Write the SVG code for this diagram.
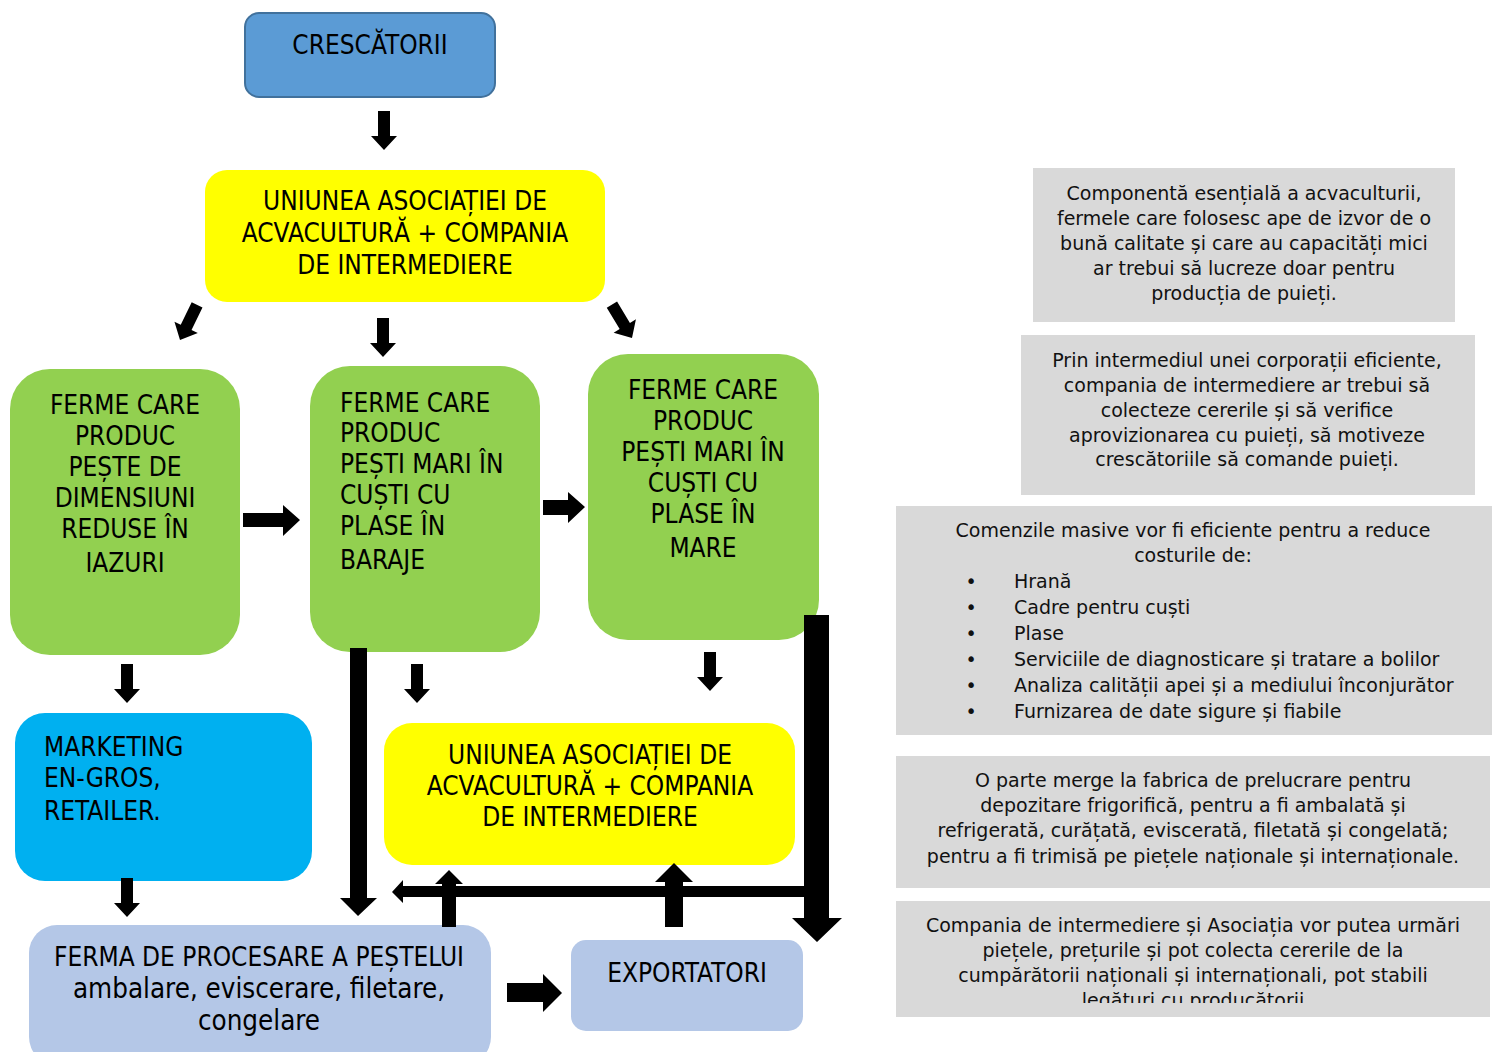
<svg xmlns="http://www.w3.org/2000/svg" width="1494" height="1052" viewBox="0 0 1494 1052">
<style>
.t{font-family:"DejaVu Sans Condensed","DejaVu Sans",sans-serif;font-stretch:condensed;font-size:26px;fill:#000}
.lc{font-size:27.5px}
.c{text-anchor:middle}
.g{font-family:"DejaVu Sans",sans-serif;font-size:19px;fill:#111}
.gray{fill:#D9D9D9}
.green{fill:#92D050}
.yellow{fill:#FFFF00}
.lb{fill:#B4C7E7}
.ar{fill:#000}
</style>
<defs>
<path id="sd" d="M-6,-39 H6 V-14 H13 L0,0 L-13,-14 H-6 Z"/>
<clipPath id="clipE"><rect x="896" y="901" width="594" height="102"/></clipPath>
</defs>
<rect width="1494" height="1052" fill="#fff"/>

<g id="crescatorii">
<rect x="245" y="13" width="250" height="84" rx="14" fill="#5B9BD5" stroke="#41719C" stroke-width="2"/>
<text class="t c" x="370" y="54">CRESCĂTORII</text>
</g>

<g id="uniunea-top">
<rect class="yellow" x="205" y="170" width="400" height="132" rx="22"/>
<text class="t c" x="405" y="210">UNIUNEA ASOCIAȚIEI DE</text>
<text class="t c" x="405" y="242">ACVACULTURĂ + COMPANIA</text>
<text class="t c" x="405" y="274">DE INTERMEDIERE</text>
</g>

<g id="ferme-iazuri">
<rect class="green" x="10" y="369" width="230" height="286" rx="40"/>
<text class="t c" x="125" y="414">FERME CARE</text>
<text class="t c" x="125" y="445">PRODUC</text>
<text class="t c" x="125" y="476">PEȘTE DE</text>
<text class="t c" x="125" y="507">DIMENSIUNI</text>
<text class="t c" x="125" y="538">REDUSE ÎN</text>
<text class="t c" x="125" y="572">IAZURI</text>
</g>

<g id="ferme-baraje">
<rect class="green" x="310" y="366" width="230" height="286" rx="40"/>
<text class="t" x="340" y="412">FERME CARE</text>
<text class="t" x="340" y="442">PRODUC</text>
<text class="t" x="340" y="473">PEȘTI MARI ÎN</text>
<text class="t" x="340" y="504">CUȘTI CU</text>
<text class="t" x="340" y="535">PLASE ÎN</text>
<text class="t" x="340" y="569">BARAJE</text>
</g>

<g id="ferme-mare">
<rect class="green" x="588" y="354" width="231" height="286" rx="40"/>
<text class="t c" x="703" y="399">FERME CARE</text>
<text class="t c" x="703" y="430">PRODUC</text>
<text class="t c" x="703" y="461">PEȘTI MARI ÎN</text>
<text class="t c" x="703" y="492">CUȘTI CU</text>
<text class="t c" x="703" y="523">PLASE ÎN</text>
<text class="t c" x="703" y="557">MARE</text>
</g>

<g id="marketing">
<rect x="15" y="713" width="297" height="168" rx="30" fill="#00B0F0"/>
<text class="t" x="44" y="756">MARKETING</text>
<text class="t" x="44" y="787">EN-GROS,</text>
<text class="t" x="44" y="820">RETAILER.</text>
</g>

<g id="uniunea-bottom">
<rect class="yellow" x="384" y="723" width="411" height="142" rx="28"/>
<text class="t c" x="590" y="764">UNIUNEA ASOCIAȚIEI DE</text>
<text class="t c" x="590" y="795">ACVACULTURĂ + COMPANIA</text>
<text class="t c" x="590" y="826">DE INTERMEDIERE</text>
</g>

<g id="ferma-procesare">
<rect class="lb" x="29" y="925" width="462" height="140" rx="28"/>
<text class="t c" x="259" y="966">FERMA DE PROCESARE A PEȘTELUI</text>
<text class="t c lc" x="259" y="998">ambalare, eviscerare, filetare,</text>
<text class="t c lc" x="259" y="1030">congelare</text>
</g>

<g id="exportatori">
<rect class="lb" x="571" y="940" width="232" height="91" rx="15"/>
<text class="t c" x="687" y="982">EXPORTATORI</text>
</g>

<g id="nota-1">
<rect class="gray" x="1033" y="168" width="422" height="154"/>
<text class="g c" x="1244" y="200">Componentă esențială a acvaculturii,</text>
<text class="g c" x="1244" y="225">fermele care folosesc ape de izvor de o</text>
<text class="g c" x="1244" y="250">bună calitate și care au capacități mici</text>
<text class="g c" x="1244" y="275">ar trebui să lucreze doar pentru</text>
<text class="g c" x="1244" y="300">producția de puieți.</text>
</g>

<g id="nota-2">
<rect class="gray" x="1021" y="335" width="454" height="160"/>
<text class="g c" x="1247" y="367">Prin intermediul unei corporații eficiente,</text>
<text class="g c" x="1247" y="392">compania de intermediere ar trebui să</text>
<text class="g c" x="1247" y="417">colecteze cererile și să verifice</text>
<text class="g c" x="1247" y="442">aprovizionarea cu puieți, să motiveze</text>
<text class="g c" x="1247" y="466">crescătoriile să comande puieți.</text>
</g>

<g id="nota-3">
<rect class="gray" x="896" y="506" width="596" height="229"/>
<text class="g c" x="1193" y="537">Comenzile masive vor fi eficiente pentru a reduce</text>
<text class="g c" x="1193" y="562">costurile de:</text>
<text class="g c" x="971" y="588">•</text><text class="g" x="1014" y="588">Hrană</text>
<text class="g c" x="971" y="614">•</text><text class="g" x="1014" y="614">Cadre pentru cuști</text>
<text class="g c" x="971" y="640">•</text><text class="g" x="1014" y="640">Plase</text>
<text class="g c" x="971" y="666">•</text><text class="g" x="1014" y="666">Serviciile de diagnosticare și tratare a bolilor</text>
<text class="g c" x="971" y="692">•</text><text class="g" x="1014" y="692">Analiza calității apei și a mediului înconjurător</text>
<text class="g c" x="971" y="718">•</text><text class="g" x="1014" y="718">Furnizarea de date sigure și fiabile</text>
</g>

<g id="nota-4">
<rect class="gray" x="896" y="756" width="594" height="132"/>
<text class="g c" x="1193" y="787">O parte merge la fabrica de prelucrare pentru</text>
<text class="g c" x="1193" y="812">depozitare frigorifică, pentru a fi ambalată și</text>
<text class="g c" x="1193" y="837">refrigerată, curățată, eviscerată, filetată și congelată;</text>
<text class="g c" x="1193" y="863">pentru a fi trimisă pe piețele naționale și internaționale.</text>
</g>

<g id="nota-5">
<rect class="gray" x="896" y="901" width="594" height="116"/>
<g clip-path="url(#clipE)">
<text class="g c" x="1193" y="932">Compania de intermediere și Asociația vor putea urmări</text>
<text class="g c" x="1193" y="957">piețele, prețurile și pot colecta cererile de la</text>
<text class="g c" x="1193" y="982">cumpărătorii naționali și internaționali, pot stabili</text>
<text class="g c" x="1193" y="1007">legături cu producătorii</text>
</g>
</g>

<g id="connectors" class="ar">
<use href="#sd" transform="translate(384,150)"/>
<use href="#sd" transform="translate(383,357)"/>
<use href="#sd" transform="translate(180,340) rotate(26)"/>
<use href="#sd" transform="translate(632,338) rotate(-31)"/>
<use href="#sd" transform="translate(127,703)"/>
<use href="#sd" transform="translate(417,703)"/>
<use href="#sd" transform="translate(710,691)"/>
<use href="#sd" transform="translate(127,917)"/>
<path d="M243,513 H283 V505 L300,520 L283,536 V527 H243 Z"/>
<path d="M543,500 H568 V492 L585,507 L568,523 V515 H543 Z"/>
<path d="M507,983 H543 V974 L562,993 L543,1012 V1002 H507 Z"/>
<path d="M350,648 H367 V898 H377 L358,916 L340,898 H350 Z"/>
<path d="M804,615 H829 V918 H842 L817,942 L792,918 H804 Z"/>
<path d="M804,886 V897 H403 V903 L392,892 L403,880 V886 Z"/>
<path d="M442,927 V884 H435 L449,870 L463,884 H456 V927 Z"/>
<path d="M665,927 V882 H655 L674,863 L693,882 H683 V927 Z"/>
</g>
</svg>
